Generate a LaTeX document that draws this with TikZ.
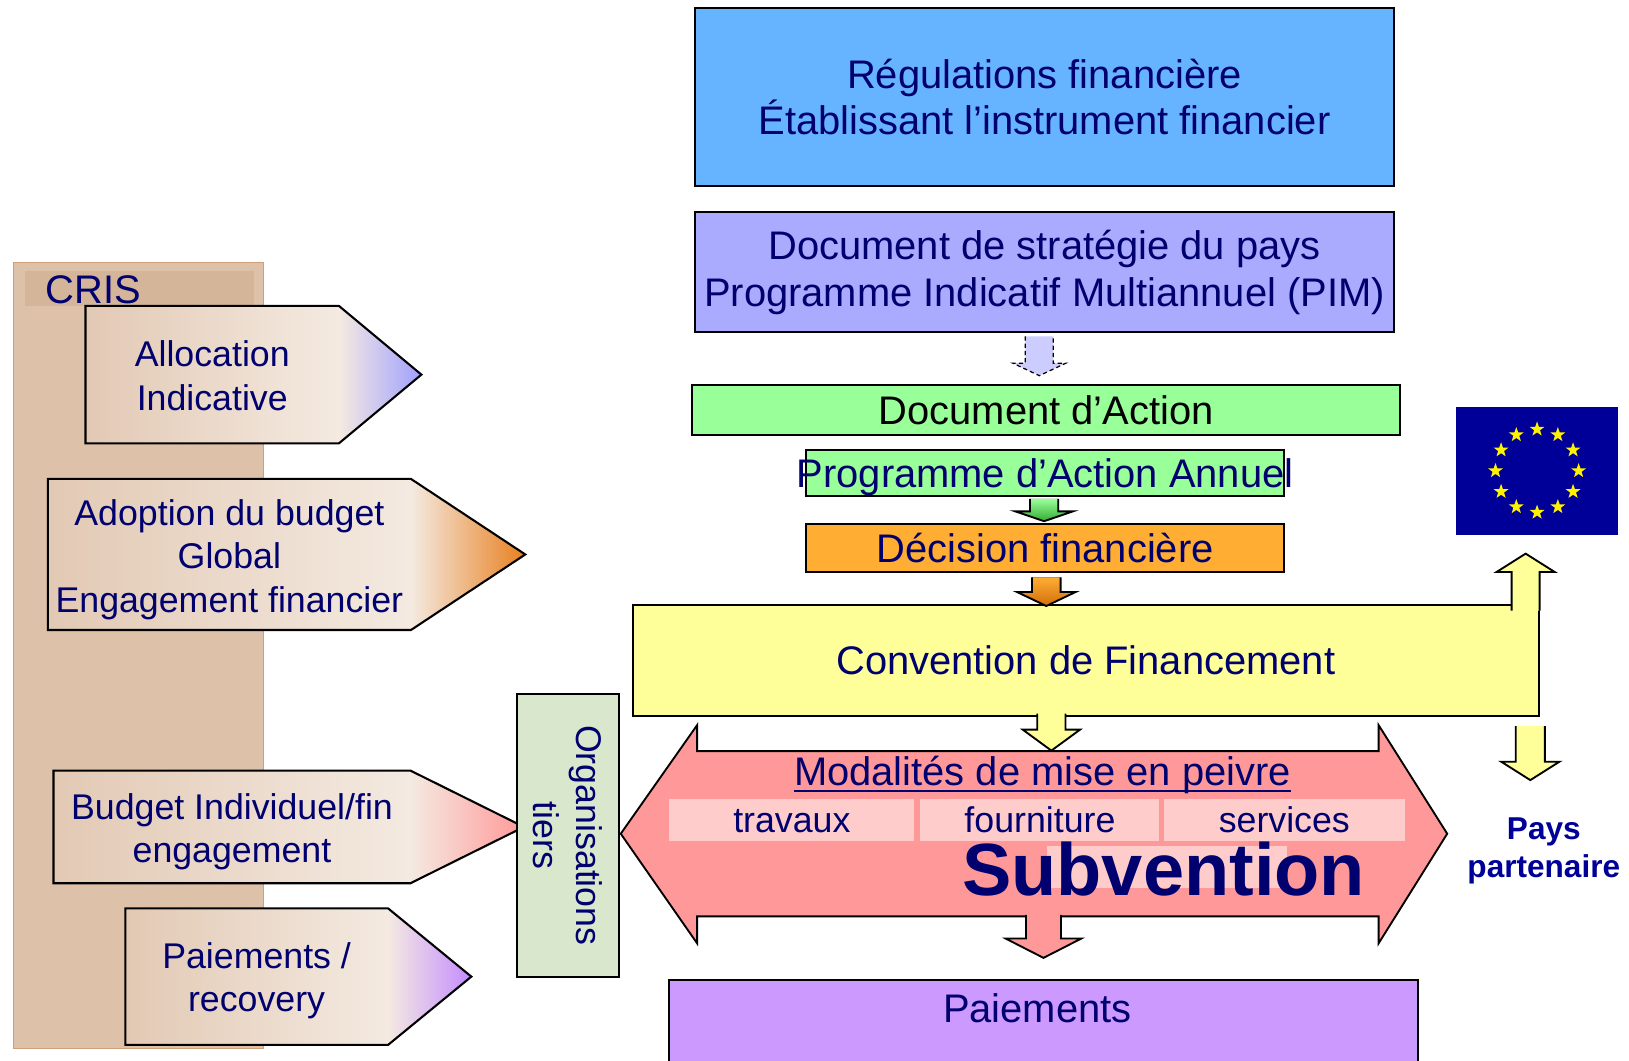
\documentclass[tikz,border=0pt]{standalone}
\usepackage{fontspec}
\setmainfont{Liberation Sans}
\usetikzlibrary{positioning, calc, shapes.geometric}

\definecolor{navy}{RGB}{0,0,110}
\definecolor{paysblue}{RGB}{0,0,153}
\definecolor{regblue}{RGB}{102,179,255}
\definecolor{csplilac}{RGB}{170,170,255}
\definecolor{dashlilac}{RGB}{204,204,255}
\definecolor{actgreen}{RGB}{153,255,153}
\definecolor{arrowgreen}{RGB}{51,170,51}
\definecolor{decorange}{RGB}{255,173,51}
\definecolor{arroworange}{RGB}{210,110,10}
\definecolor{convyellow}{RGB}{255,255,153}
\definecolor{modpink}{RGB}{255,153,153}
\definecolor{cellpink}{RGB}{255,204,204}
\definecolor{paielilac}{RGB}{204,153,255}
\definecolor{orggreen}{RGB}{217,232,204}
\definecolor{crisfill}{RGB}{221,193,168}
\definecolor{crishead}{RGB}{212,181,153}
\definecolor{crisline}{RGB}{205,160,120}
\definecolor{tagleft}{RGB}{226,201,180}
\definecolor{tagright}{RGB}{244,234,225}
\definecolor{tipblue}{RGB}{160,160,255}
\definecolor{tiporange}{RGB}{232,128,32}
\definecolor{tipviolet}{RGB}{196,140,255}
\definecolor{eublue}{RGB}{0,0,153}

\newcommand{\boxfont}{\fontsize{19.2pt}{22.5pt}\selectfont}
\newcommand{\tagfont}{\fontsize{17.2pt}{21pt}\selectfont}
\newcommand{\subvfont}{\fontsize{35.6pt}{40pt}\selectfont\bfseries}
\newcommand{\paysfont}{\fontsize{15.2pt}{18.5pt}\selectfont\bfseries}

% left, right, top, bottom, tip, tip colour
\newcommand{\tagarrow}[6]{%
  \shade[left color=tagleft, right color=tagright] (#1,#3) rectangle (#2,#4);
  \shade[left color=tagright, right color=#6] (#2,#3) -- (#5,{(#3+#4)/2}) -- (#2,#4) -- cycle;
  \draw[tagline] (#1,#3) -- (#2,#3) -- (#5,{(#3+#4)/2}) -- (#2,#4) -- (#1,#4) -- cycle;}

% from, to, shaft half width, head half width, head length
\newcommand{\blockarrow}[6][]{%
  \filldraw[blockline, #1] let \p1=#2, \p2=#3 in
    ({\x2-#4},\y1) -- ({\x2-#4},{\y2+(#6)}) -- ({\x2-#5},{\y2+(#6)}) -- (\x2,\y2)
    -- ({\x2+#5},{\y2+(#6)}) -- ({\x2+#4},{\y2+(#6)}) -- ({\x2+#4},\y1);}

\begin{document}
\begin{tikzpicture}[x=0.5pt, y=-0.5pt,
    box/.style={draw, line width=1pt, inner sep=0pt, align=center, text=navy, font=\boxfont},
    txt/.style={inner sep=0pt, align=center, text=navy, font=\boxfont},
    tagtxt/.style={inner sep=0pt, align=center, text=navy, font=\tagfont},
    tagline/.style={draw=black, line width=1pt},
    cell/.style={fill=cellpink, inner sep=0pt, text=navy, font=\tagfont, text height=12pt, text depth=0pt, minimum height=19.85pt},
    eustar/.style={star, star points=5, star point ratio=2.5, fill=yellow, inner sep=0pt, minimum size=7.5pt},
    blockline/.style={draw=black, line width=0.9pt}]

\useasboundingbox (0,0) rectangle (1568,1021);
\clip (0,0) rectangle (1568,1021);

% CRIS
\node[draw=crisline, fill=crisfill, line width=0.7pt, minimum width=120.25pt, minimum height=378.25pt, inner sep=0pt] (crisbox) at (133.5,630.75) {};
\fill[crishead] (24.3,260.8) rectangle (244.8,295);
\node[txt, anchor=base west] (cris) at (43.3,291.7) {CRIS};

\tagarrow{82.3}{326.3}{294.5}{426.7}{405.6}{tipblue}
\node[tagtxt] (alloc) at (204.3,361.6) {Allocation\\Indicative};
\tagarrow{46}{395.6}{461}{606.4}{505.6}{tiporange}
\node[tagtxt] (adopt) at (220.8,538.5) {Adoption du budget\\Global\\Engagement financier};
\tagarrow{51.5}{395}{741.7}{850.2}{504.3}{modpink}
\node[tagtxt] (budg) at (223.3,800.5) {Budget Individuel/fin\\engagement};
\tagarrow{120.7}{373.5}{874.3}{1005.8}{453.7}{tipviolet}
\node[tagtxt] (recov) at (247,944) {Paiements /\\recovery};

\node[box, fill=orggreen, font=\tagfont, rotate=-90, minimum width=136pt, minimum height=49pt] (orga) at (546.5,804) {Organisations\\tiers};

% colonne centrale
\node[box, fill=regblue, minimum width=336.4pt, minimum height=85.4pt] (reg) at (1005.4,93.4) {Régulations financière\\Établissant l’instrument financier};
\node[box, fill=csplilac, minimum width=336.4pt, minimum height=57.8pt, below=11.7pt of reg] (csp) {Document de stratégie du pays\\Programme Indicatif Multiannuel (PIM)};
\node[box, fill=actgreen, text=black, minimum width=340.6pt, minimum height=24pt] (docact) at (1006.9,394.6) {Document d’Action};
\node[box, fill=actgreen, minimum width=229.8pt, minimum height=22pt] (paa) at (1006,455.3) {};
\node[txt] (paatxt) at ($(paa)+(0,4)$) {Programme d’Action Annuel};
\node[box, fill=decorange, minimum width=229.8pt, minimum height=23pt] (dec) at (1006,527.7) {Décision financière};

\coordinate (modal) at (995.5,802.5);
\draw[fill=modpink, line width=0.9pt] (597.5,802.5) -- (671,698) -- (671,723) -- (1327,723) -- (1327,698) -- (1393,802.5)
  -- (1327,908) -- (1327,882) -- (671,882) -- (671,908) -- cycle;

\node[box, fill=convyellow, minimum width=435.9pt, minimum height=53.3pt] (conv) at (1045.1,635.6) {Convention de Financement};

\node[cell, minimum width=118pt] (trav) at (762.2,789.2) {travaux};
\node[cell, minimum width=115pt] (four) at (1001,789.2) {fourniture};
\node[cell, minimum width=115.85pt] (serv) at (1236.2,789.2) {services};
\fill[cellpink] (1008,814) rectangle (1239,855);
\node[txt, anchor=base] (modt) at (1003.5,756.5) {Modalités de mise en peivre};
\draw[navy, line width=0.9pt] ([yshift=-2.5pt]modt.base west) -- ([yshift=-2.5pt]modt.base east);
\node[txt, font=\subvfont, anchor=base] (subv) at (1120,861.5) {Subvention};

\node[box, fill=paielilac, minimum width=360.4pt, minimum height=50pt] (paie) at (1004.4,993) {};
\node[txt, anchor=base] (paiet) at ($(paie.north)+(-6,42)$) {Paiements};

\node[fill=eublue, minimum width=78pt, minimum height=61.8pt, inner sep=0pt] (flag) at (1479.5,453.2) {};
\foreach \a in {0,30,...,330}
  \node[eustar] (star\a) at ($(flag)+(\a:40)$) {};
\node[txt, font=\paysfont, text=paysblue] (pays) at (1486,819) {Pays\\partenaire};

\blockarrow[fill=dashlilac, dash pattern=on 2pt off 1.5pt, line width=0.6pt]{($(csp.south)+(0,3)$)}{($(docact.north)+(-6.5,-8)$)}{6.75pt}{12.75pt}{6pt}
\blockarrow[top color=actgreen, bottom color=arrowgreen]{($(paa.south)+(0,2)$)}{($(dec.north)+(-1,-2)$)}{6.8pt}{13.9pt}{4.75pt}
\blockarrow[top color=decorange, bottom color=arroworange]{($(dec.south)+(0,4)$)}{($(conv.north)+(-38,2)$)}{6.9pt}{14.15pt}{6.75pt}
\blockarrow[fill=convyellow]{($(conv.south)+(0,-3)$)}{($(modal)+(16.5,-80)$)}{6.8pt}{13.8pt}{10.1pt}
\blockarrow[fill=modpink]{($(modal)+(0,78)$)}{($(paie.north)+(0,-20)$)}{8.4pt}{18.2pt}{9.3pt}
\blockarrow[fill=convyellow]{($(conv.south east)+(0,9)$)}{($(conv.south east)+(-9,61)$)}{7pt}{14pt}{8.85pt}
\blockarrow[fill=convyellow]{($(conv.north east)+(0,6.5)$)}{($(flag.south)+(-11,17.5)$)}{6.75pt}{14pt}{-8.85pt}
\end{tikzpicture}
\end{document}
